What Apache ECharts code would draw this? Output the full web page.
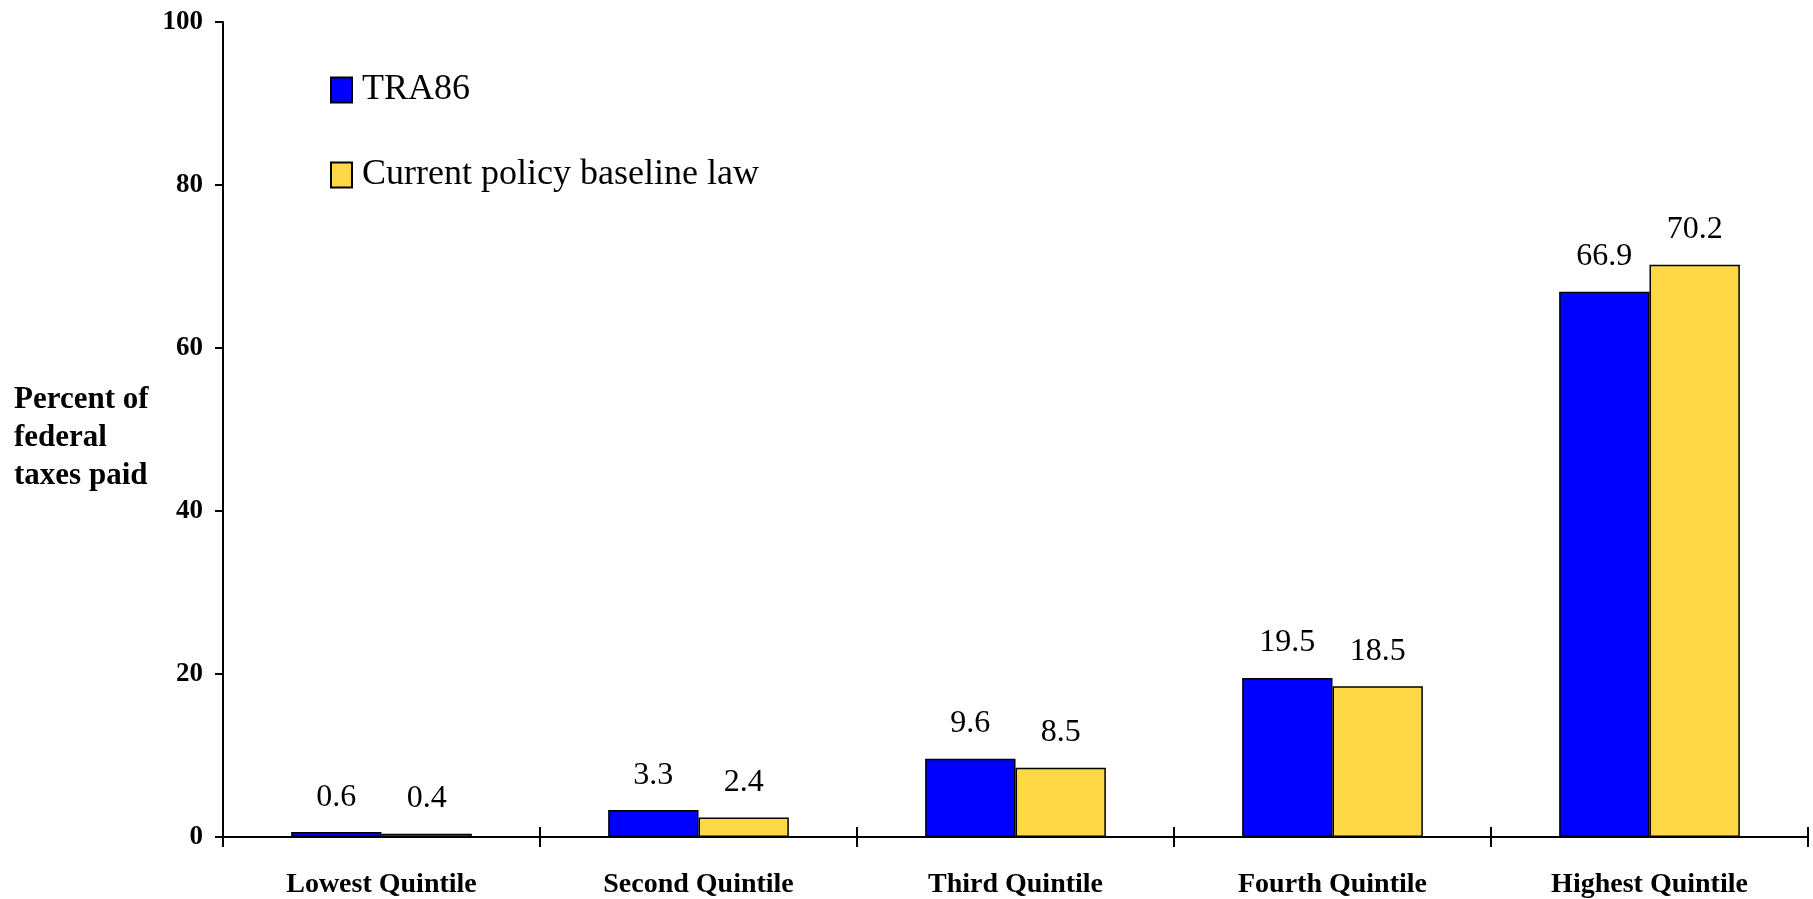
<!DOCTYPE html>
<html>
<head>
<meta charset="utf-8">
<title>Share of federal taxes paid by income quintile</title>
<script src="https://cdn.jsdelivr.net/npm/echarts@6/dist/echarts.min.js"></script>
<style>
  html, body { margin: 0; padding: 0; background: #fff; }
  #chart { width: 1813px; height: 899px; }
</style>
</head>
<body>
<div id="chart"></div>
<script>
// Income quintiles on the category axis
const categories = ['Lowest Quintile', 'Second Quintile', 'Third Quintile', 'Fourth Quintile', 'Highest Quintile'];

// Percent of federal taxes paid, by quintile
const tra86 = [0.6, 3.3, 9.6, 19.5, 66.9];
const currentPolicy = [0.4, 2.4, 8.5, 18.5, 70.2];

const seriesNames = ['TRA86', 'Current policy baseline law'];
const yAxisTitle = 'Percent of\nfederal\ntaxes paid';

const SERIF = '"Liberation Serif", "Times New Roman", serif';

const chart = echarts.init(document.getElementById('chart'), null, { renderer: 'canvas' });

const barLabel = {
  show: true,
  position: 'top',
  distance: 19,
  fontFamily: SERIF,
  fontSize: 32,
  color: '#000',
  formatter: p => p.value.toFixed(1)
};

const legendText = { fontFamily: SERIF, fontSize: 36, lineHeight: 36, color: '#000', padding: [0, 0, 0, 5] };

chart.setOption({
  animation: false,
  backgroundColor: '#fff',
  grid: { left: 223, right: 5, top: 22, bottom: 62, containLabel: false },
  legend: [
    {
      data: [seriesNames[0]],
      left: 330, top: 72, padding: 0,
      orient: 'vertical',
      icon: 'rect', itemWidth: 21, itemHeight: 25,
      textStyle: legendText
    },
    {
      data: [seriesNames[1]],
      left: 330, top: 157, padding: 0,
      orient: 'vertical',
      icon: 'rect', itemWidth: 21, itemHeight: 25,
      textStyle: legendText
    }
  ],
  xAxis: [
    {
      type: 'category',
      data: categories,
      boundaryGap: true,
      axisLine: { show: true, lineStyle: { color: '#000', width: 2 } },
      axisTick: { show: true, length: 10, lineStyle: { color: '#000', width: 2 } },
      axisLabel: { margin: 34, fontFamily: SERIF, fontWeight: 'bold', fontSize: 28, color: '#000' },
      splitLine: { show: false }
    },
    {
      // Upward half of the category separator ticks
      type: 'category',
      data: categories,
      position: 'bottom',
      boundaryGap: true,
      axisLine: { show: false },
      axisTick: { show: true, inside: true, length: 10, lineStyle: { color: '#000', width: 2 } },
      axisLabel: { show: false },
      splitLine: { show: false }
    }
  ],
  yAxis: {
    type: 'value',
    min: 0, max: 100, interval: 20,
    axisLine: { show: true, lineStyle: { color: '#000', width: 2 } },
    axisTick: { show: true, length: 8, lineStyle: { color: '#000', width: 2 } },
    axisLabel: { margin: 20, fontFamily: SERIF, fontWeight: 'bold', fontSize: 27, color: '#000' },
    splitLine: { show: false }
  },
  graphic: [
    {
      type: 'text',
      left: 14, top: 381,
      style: {
        text: yAxisTitle,
        font: 'bold 31px ' + SERIF,
        lineHeight: 38,
        fill: '#000'
      }
    }
  ],
  series: [
    {
      name: seriesNames[0],
      type: 'bar',
      data: tra86,
      barGap: '0%',
      barCategoryGap: '43%',
      itemStyle: { color: '#0000FF', borderColor: '#000', borderWidth: 1.5 },
      label: barLabel
    },
    {
      name: seriesNames[1],
      type: 'bar',
      data: currentPolicy,
      barGap: '0%',
      barCategoryGap: '43%',
      itemStyle: { color: '#FFD945', borderColor: '#000', borderWidth: 1.5 },
      label: barLabel
    }
  ]
});
</script>
</body>
</html>
